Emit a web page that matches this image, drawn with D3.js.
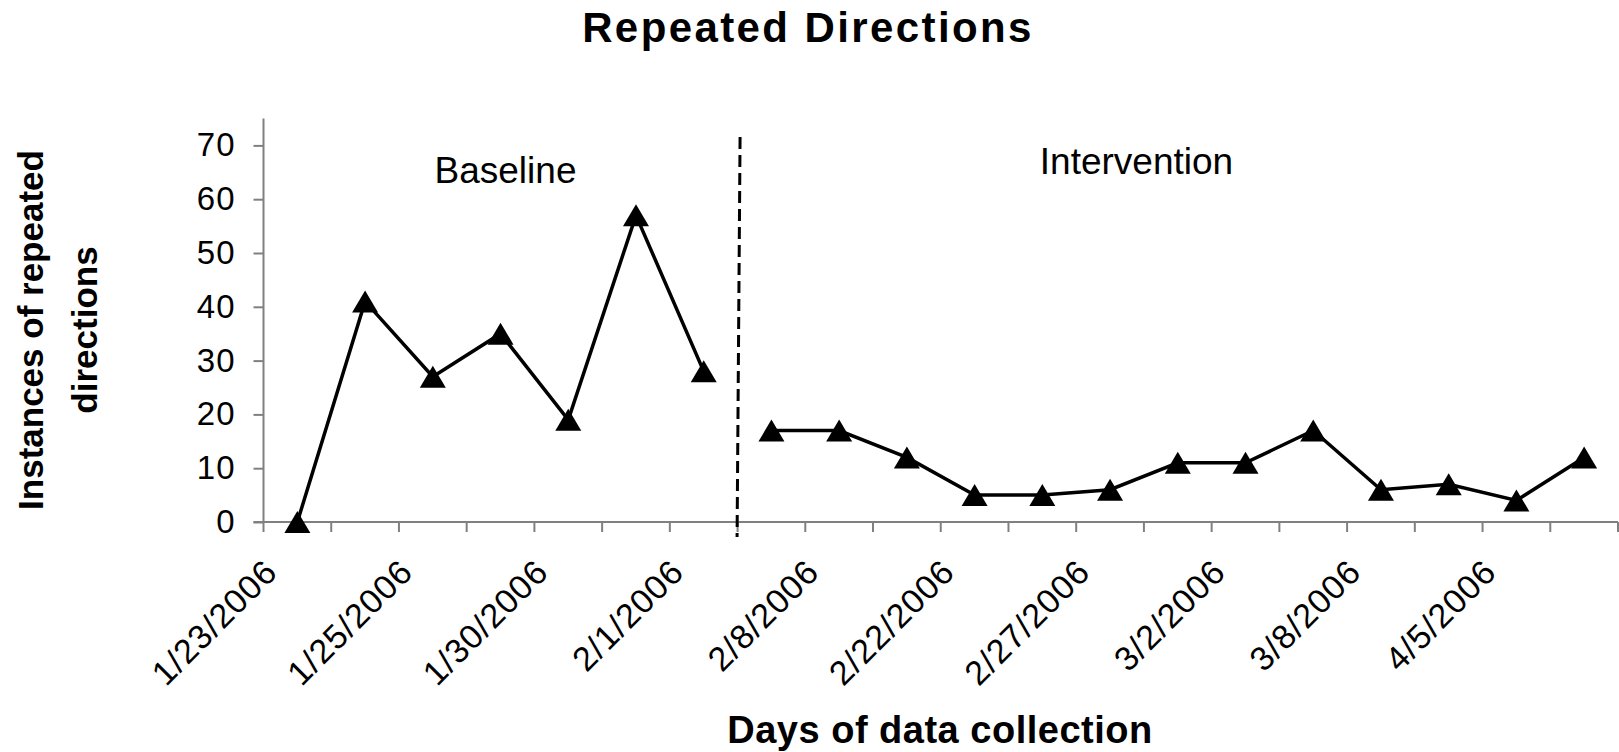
<!DOCTYPE html>
<html>
<head>
<meta charset="utf-8">
<script src="https://cdn.jsdelivr.net/npm/d3@7"></script>
<style>
  body { margin: 0; background: #fff; }
  text { font-family: "Liberation Sans", Arial, sans-serif; fill: #000; }
</style>
</head>
<body>
<svg id="svg"></svg>
<script>
var width = 1619,
    height = 752;

// sessions, only every other one gets a date label in the original
var dateLabels = ["1/23/2006", "1/25/2006", "1/30/2006", "2/1/2006", "2/8/2006",
                  "2/22/2006", "2/27/2006", "3/2/2006", "3/8/2006", "4/5/2006"];
var baselineValues = [0, 41, 27, 35, 19, 57, 28];
var interventionValues = [17, 17, 12, 5, 5, 6, 11, 11, 17, 6, 7, 4, 12];
var yTicks = [0, 10, 20, 30, 40, 50, 60, 70];
var yMax = 75;

var nSessions = baselineValues.length + interventionValues.length;

var svg = d3.select("#svg")
    .attr("width", width)
    .attr("height", height);

svg.append("rect").attr("width", width).attr("height", height).attr("fill", "#fff");

var x = d3.scaleBand()
    .domain(d3.range(nSessions))
    .range([263.5, 1618])
    .padding(0);

var y = d3.scaleLinear()
    .domain([0, yMax])
    .range([522, 118.5]);

var axisColor = "#808080";

// y axis
var yAxis = svg.append("g")
    .attr("transform", "translate(" + x.range()[0] + ",0)")
    .call(d3.axisLeft(y).tickValues(yTicks).tickSize(10).tickPadding(18).tickFormat(d3.format("d")));
yAxis.select(".domain").attr("stroke", axisColor).attr("stroke-width", 2).attr("d", "M0," + y(yMax) + "V" + y(0));
yAxis.selectAll(".tick line").attr("stroke", axisColor).attr("stroke-width", 2);
yAxis.selectAll(".tick text")
    .attr("font-size", 33)
    .attr("letter-spacing", 1)
    .attr("font-family", "Liberation Sans, Arial, sans-serif")
    .attr("fill", "#000");

// x axis: ticks between sessions
var boundaries = d3.range(nSessions + 1).map(function(i) {
  return i < nSessions ? x(i) : x.range()[1];
});
var xAxis = svg.append("g");
xAxis.append("line")
    .attr("x1", x.range()[0] - 10).attr("x2", x.range()[1])
    .attr("y1", y(0)).attr("y2", y(0))
    .attr("stroke", axisColor).attr("stroke-width", 2);
xAxis.selectAll(".xtick")
    .data(boundaries)
  .enter().append("line")
    .attr("class", "xtick")
    .attr("x1", function(d) { return d; }).attr("x2", function(d) { return d; })
    .attr("y1", y(0)).attr("y2", y(0) + 10)
    .attr("stroke", axisColor).attr("stroke-width", 2);

// date labels on every other session
xAxis.selectAll(".xlabel")
    .data(dateLabels)
  .enter().append("text")
    .attr("class", "xlabel")
    .attr("text-anchor", "end")
    .attr("font-size", 34)
    .attr("letter-spacing", 1)
    .attr("transform", function(d, i) {
      var cx = x(i * 2) + x.bandwidth() / 2 - 18;
      return "translate(" + cx + "," + (y(0) + 52) + ") rotate(-45)";
    })
    .text(function(d) { return d; });

// phase change line
var phaseX = x(baselineValues.length);
svg.append("line")
    .attr("x1", phaseX + 2.5).attr("x2", phaseX - 0.5)
    .attr("y1", 137).attr("y2", 537)
    .attr("stroke", "#000")
    .attr("stroke-width", 3)
    .attr("stroke-dasharray", "12,6");

// triangle marker centred on its box
var triangle = {
  draw: function(ctx, size) {
    var w = 13, h = 11;
    ctx.moveTo(0, -h);
    ctx.lineTo(w, h);
    ctx.lineTo(-w, h);
    ctx.closePath();
  }
};

var line = d3.line()
    .x(function(d) { return x(d.i) + x.bandwidth() / 2; })
    .y(function(d) { return y(d.v); });

var baselinePts = baselineValues.map(function(v, i) { return { i: i, v: v }; });
var interventionPts = interventionValues.map(function(v, i) { return { i: i + baselineValues.length, v: v }; });

[baselinePts, interventionPts].forEach(function(pts) {
  svg.append("path")
      .datum(pts)
      .attr("fill", "none")
      .attr("stroke", "#000")
      .attr("stroke-width", 3.5)
      .attr("d", line);

  svg.selectAll(null)
      .data(pts)
    .enter().append("path")
      .attr("d", d3.symbol().type(triangle))
      .attr("transform", function(d) {
        return "translate(" + (x(d.i) + x.bandwidth() / 2) + "," + y(d.v) + ")";
      })
      .attr("fill", "#000");
});

// phase labels
svg.append("text")
    .attr("x", 505.5).attr("y", 183)
    .attr("text-anchor", "middle")
    .attr("font-size", 37)
    .text("Baseline");

svg.append("text")
    .attr("x", 1136.5).attr("y", 174)
    .attr("text-anchor", "middle")
    .attr("font-size", 37)
    .text("Intervention");

// title
svg.append("text")
    .attr("x", 808).attr("y", 41.5)
    .attr("text-anchor", "middle")
    .attr("font-size", 42)
    .attr("font-weight", "bold")
    .attr("letter-spacing", 2.4)
    .text("Repeated Directions");

// x axis title
svg.append("text")
    .attr("x", 940).attr("y", 743)
    .attr("text-anchor", "middle")
    .attr("font-size", 38)
    .attr("font-weight", "bold")
    .attr("letter-spacing", 0.5)
    .text("Days of data collection");

// y axis title, two lines
var yTitle = svg.append("text")
    .attr("transform", "translate(0,330) rotate(-90)")
    .attr("text-anchor", "middle")
    .attr("font-size", 35)
    .attr("font-weight", "bold");
yTitle.append("tspan").attr("x", 0).attr("y", 43).text("Instances of repeated");
yTitle.append("tspan").attr("x", 0).attr("y", 97).text("directions");
</script>
</body>
</html>
